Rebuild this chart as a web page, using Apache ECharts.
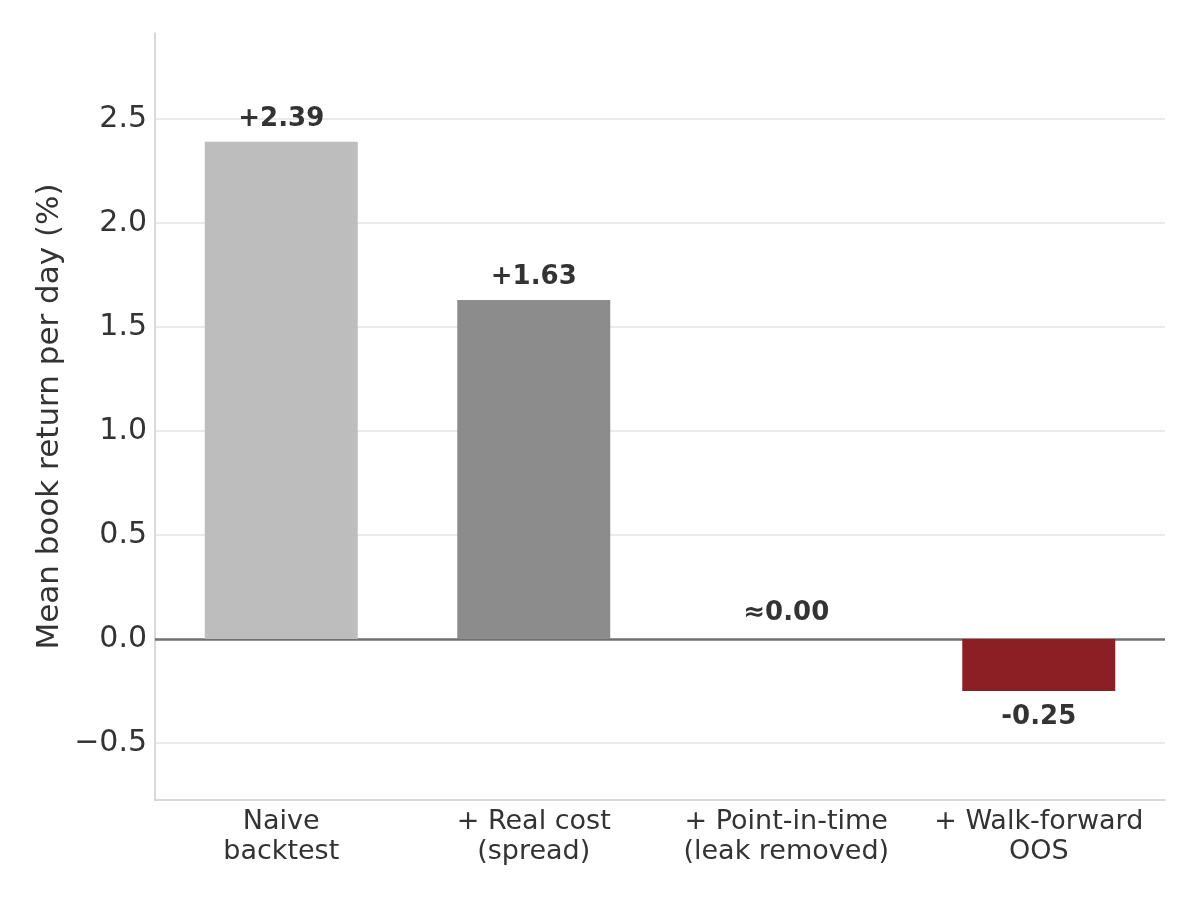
<!DOCTYPE html>
<html>
<head>
<meta charset="utf-8">
<script src="https://cdn.jsdelivr.net/npm/echarts@6/dist/echarts.min.js"></script>
<style>
  html, body { margin: 0; padding: 0; background: #fff; }
  #chart { width: 1200px; height: 900px; }
</style>
</head>
<body>
<div id="chart"></div>
<script>
// data
const categories = ["Naive\nbacktest", "+ Real cost\n(spread)", "+ Point-in-time\n(leak removed)", "+ Walk-forward\nOOS"];
const values = [2.39, 1.63, 0.0, -0.25];
const barLabels = ["+2.39", "+1.63", "≈0.00", "-0.25"];
const barColors = ["#bdbdbd", "#8c8c8c", "#8c8c8c", "#8b1f23"];
const yTicks = [-0.5, 0, 0.5, 1.0, 1.5, 2.0, 2.5];

const FONT = "DejaVu Sans";
const chart = echarts.init(document.getElementById("chart"));

function fmtTick(v) {
  const s = v.toFixed(1);
  return v < 0 ? "\u2212" + s.slice(1) : s;
}

chart.setOption({
  animation: false,
  grid: { left: 155, right: 35, top: 33, bottom: 100, containLabel: false },
  xAxis: {
    type: "category",
    data: categories,
    axisLine: { onZero: false, lineStyle: { color: "#cccccc", width: 1.5 } },
    axisTick: { show: false },
    axisLabel: { interval: 0, color: "#333333", fontSize: 27, fontFamily: FONT, lineHeight: 30, margin: 7 },
  },
  yAxis: {
    type: "value",
    min: -0.774,
    max: 2.913,
    name: "Mean book return per day (%)",
    nameLocation: "middle",
    nameGap: 90,
    nameTextStyle: { color: "#333333", fontSize: 31, fontFamily: FONT },
    axisLine: { show: true, lineStyle: { color: "#cccccc", width: 1.5 } },
    axisTick: { show: false },
    axisLabel: { show: false },
    splitLine: { show: false },
  },
  series: [
    {
      // grid lines + tick labels, drawn under the bars
      type: "line",
      data: [],
      z: 1,
      silent: true,
      markLine: {
        silent: true,
        symbol: "none",
        animation: false,
        z: 1,
        data: yTicks.map((t) => ({
          yAxis: t,
          lineStyle: t === 0
            ? { color: "#707070", width: 2.5, type: "solid" }
            : { color: "#e3e3e3", width: 1.5, type: "solid" },
          label: {
            show: true,
            position: "start",
            distance: 8,
            padding: [5, 0, 0, 0],
            formatter: fmtTick(t),
            color: "#333333",
            fontSize: 30,
            fontFamily: FONT,
          },
        })),
      },
    },
    {
      type: "bar",
      z: 10,
      barWidth: 153,
      data: values.map((v, i) => ({
        value: v,
        itemStyle: { color: barColors[i] },
        label: {
          show: true,
          position: v < 0 ? "bottom" : "top",
          distance: v < 0 ? 13 : v === 0 ? 13 : 10,
          formatter: barLabels[i],
          color: "#333333",
          fontSize: 26,
          fontWeight: "bold",
          fontFamily: FONT,
        },
      })),
    },
  ],
});
</script>
</body>
</html>
